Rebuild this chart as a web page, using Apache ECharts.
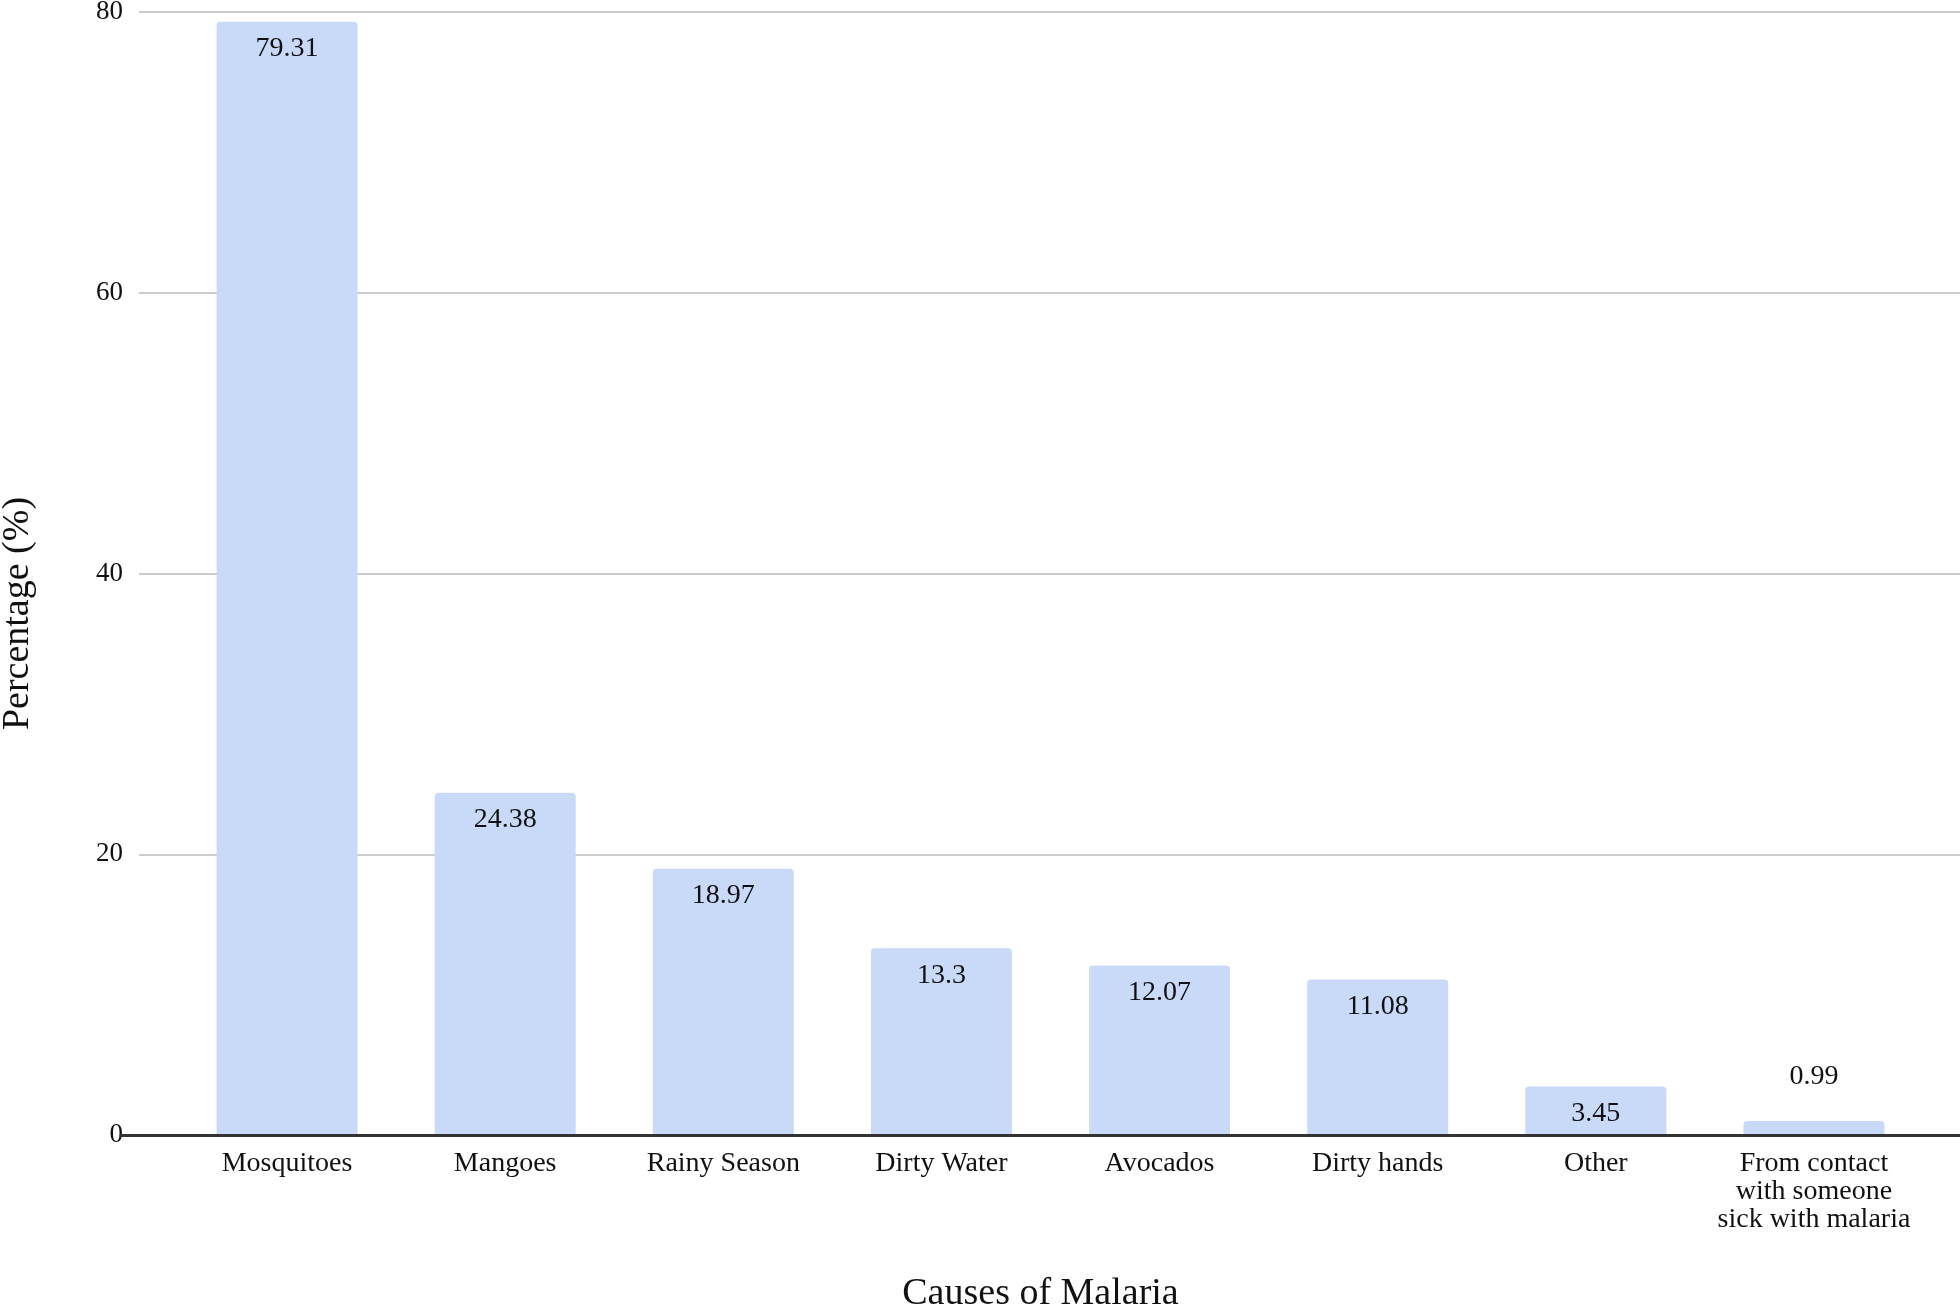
<!DOCTYPE html>
<html>
<head>
<meta charset="utf-8">
<title>Causes of Malaria</title>
<script src="https://cdn.jsdelivr.net/npm/echarts@6/dist/echarts.min.js"></script>
<style>
  html, body { margin: 0; padding: 0; background: #fff; }
  #chart { width: 1960px; height: 1306px; }
</style>
</head>
<body>
<div id="chart"></div>
<script>
// data
const causes = [
  'Mosquitoes',
  'Mangoes',
  'Rainy Season',
  'Dirty Water',
  'Avocados',
  'Dirty hands',
  'Other',
  'From contact\nwith someone\nsick with malaria'
]
const percentages = [79.31, 24.38, 18.97, 13.3, 12.07, 11.08, 3.45, 0.99]
const yTicks = { min: 0, max: 80, interval: 20 }

const serif = "'Liberation Serif', 'Times New Roman', serif"
const ink = '#111'

// the smallest bar is too short for an inside label, so it sits above
const barData = percentages.map(v => {
  if (v < 2) {
    return { value: v, label: { position: 'top', distance: 30 } }
  }
  return v
})

const chart = echarts.init(document.getElementById('chart'))

chart.setOption({
  backgroundColor: '#fff',
  animation: false,
  grid: [
    // grid lines + y tick labels
    { left: 139, right: 0, top: 12, bottom: 171, outerBoundsMode: 'none' },
    // baseline + x title
    { left: 121, right: 0, top: 12, bottom: 171, outerBoundsMode: 'none' },
    // bars
    { left: 178, right: 37, top: 12, bottom: 171, outerBoundsMode: 'none' }
  ],
  xAxis: [
    { gridIndex: 0, type: 'value', min: 0, max: 1, show: false },
    {
      gridIndex: 1, type: 'value', min: 0, max: 1, z: 5,
      position: 'bottom',
      axisLine: { show: true, onZero: false, lineStyle: { color: '#333', width: 3 } },
      axisTick: { show: false },
      axisLabel: { show: false },
      splitLine: { show: false },
      name: 'Causes of Malaria',
      nameLocation: 'middle',
      nameGap: 140,
      nameTextStyle: { fontFamily: serif, fontSize: 38, color: ink }
    },
    {
      gridIndex: 2, type: 'category', data: causes,
      axisLine: { show: false },
      axisTick: { show: false },
      axisLabel: {
        interval: 0,
        margin: 15,
        fontFamily: serif,
        fontSize: 28,
        lineHeight: 28,
        color: ink
      }
    }
  ],
  yAxis: [
    {
      gridIndex: 0, type: 'value',
      min: yTicks.min, max: yTicks.max, interval: yTicks.interval,
      axisLine: { show: false },
      axisTick: { show: false },
      axisLabel: { margin: 16, fontFamily: serif, fontSize: 27, color: ink },
      splitLine: { lineStyle: { color: '#cccccc', width: 2 } },
      name: 'Percentage (%)',
      nameLocation: 'middle',
      nameGap: 102,
      nameTextStyle: {
        fontFamily: serif, fontSize: 38, color: ink,
        padding: [0, 80, 0, 0]
      }
    },
    { gridIndex: 1, type: 'value', min: 0, max: 80, show: false },
    { gridIndex: 2, type: 'value', min: 0, max: 80, show: false }
  ],
  series: [{
    type: 'bar',
    xAxisIndex: 2,
    yAxisIndex: 2,
    data: barData,
    barWidth: 141,
    itemStyle: { color: '#c9daf8', borderRadius: [4, 4, 0, 0] },
    label: {
      show: true,
      position: 'insideTop',
      distance: 13,
      fontFamily: serif,
      fontSize: 28,
      color: ink
    }
  }]
})
</script>
</body>
</html>
